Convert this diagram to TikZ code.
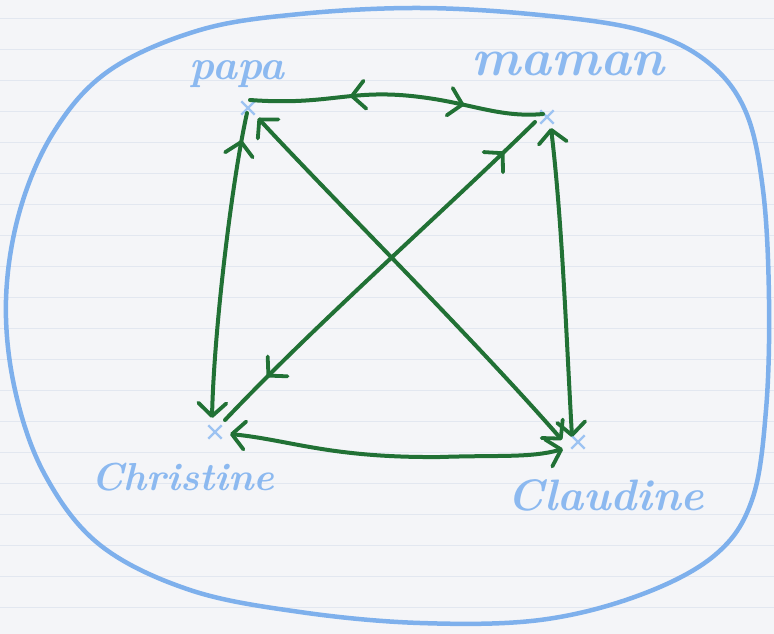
\documentclass[tikz,border=0pt]{standalone}
\usepackage{fontspec}
\usetikzlibrary{arrows.meta,decorations.markings,shapes.misc}
\definecolor{paper}{HTML}{F4F5F8}
\definecolor{rule}{HTML}{E2E7F0}
\definecolor{penblue}{HTML}{7EB0EC}
\definecolor{textblue}{HTML}{8CB9F0}
\definecolor{inkgreen}{HTML}{217135}
\tikzset{
  barb/.tip={Straight Barb[length=13pt,width=28pt,line width=3.8pt,round]},
  link/.style={draw=inkgreen, line width=4pt, line cap=round, line join=round},
  person/.style={cross out, draw=textblue!85, line width=2.4pt, minimum size=11pt, inner sep=0pt},
  personname/.style={text=textblue, anchor=base, inner sep=0pt},
  midarrows/.style 2 args={postaction={decorate}, decoration={markings,
      mark=at position #1 with {\arrowreversed{barb}},
      mark=at position #2 with {\arrow{barb}}}},
  backarrow/.style={postaction={decorate}, decoration={markings,
      mark=at position #1 with {\arrowreversed{barb}}}},
  paperrule/.style={draw=rule, line width=0.9pt},
  outline/.style={draw=penblue, line width=4.5pt, line cap=round}
}
\begin{document}
\begin{tikzpicture}[x=1pt,y=-1pt]
\useasboundingbox (0,0) rectangle (774,634);
\fill[paper] (0,0) rectangle (774,634);
\foreach \y in {18,49,...,634} \draw[paperrule] (0,\y) -- (774,\y);

% blue outline
\draw[outline] plot[smooth cycle, tension=0.6] coordinates {(300,14) (420,8) (540,15) (640,30) (705,60) (745,110) (763,190) (769,300) (766,410) (752,500) (715,555) (640,595) (540,620) (420,623) (300,612) (190,590) (100,545) (45,475) (15,390) (6,300) (20,210) (55,130) (110,70) (200,30)};

% persons
\node[person] (papa) at (248,108) {};
\node[person] (maman) at (547,117) {};
\node[person] (chr) at (215,432) {};
\node[person] (cla) at (578,442) {};

% names
\node[personname, font=\bfseries\itshape\fontsize{42}{44}\selectfont] (tpapa) at (237,80) {papa};
\node[personname, font=\bfseries\itshape\fontsize{52}{54}\selectfont] (tmaman) at (568,75) {maman};
\node[personname, font=\bfseries\itshape\fontsize{39}{41}\selectfont] (tchr) at (183,490) {Christine};
\node[personname, font=\bfseries\itshape\fontsize{44}{46}\selectfont] (tcla) at (606,510) {Claudine};

% connectors
\path[link, midarrows={0.34}{0.73}] ([shift={(2,-8)}]papa.center) .. controls (330,106) and (350,88) .. (420,97) .. controls (470,103) and (500,118) .. ([shift={(-4,-3)}]maman.center);
\path[link, backarrow=0.09, -barb] ([shift={(-1,5)}]papa.center) .. controls (232,180) and (214,330) .. ([shift={(-3,-14)}]chr.center);
\path[link, barb-barb] ([shift={(10,10)}]papa.center) .. controls (330,196) and (470,335) .. ([shift={(-16,-2)}]cla.center);
\path[link, midarrows={0.1}{0.86}] ([shift={(-12,5)}]maman.center) .. controls (440,215) and (320,320) .. ([shift={(10,-12)}]chr.center);
\path[link, barb-barb] ([shift={(4,11)}]maman.center) .. controls (562,220) and (566,330) .. ([shift={(-6,-5)}]cla.center);
\path[link, barb-barb] ([shift={(15,2)}]chr.center) .. controls (290,440) and (330,458) .. (440,457) .. controls (500,455) and (530,458) .. ([shift={(-15,7)}]cla.center);
\end{tikzpicture}
\end{document}
